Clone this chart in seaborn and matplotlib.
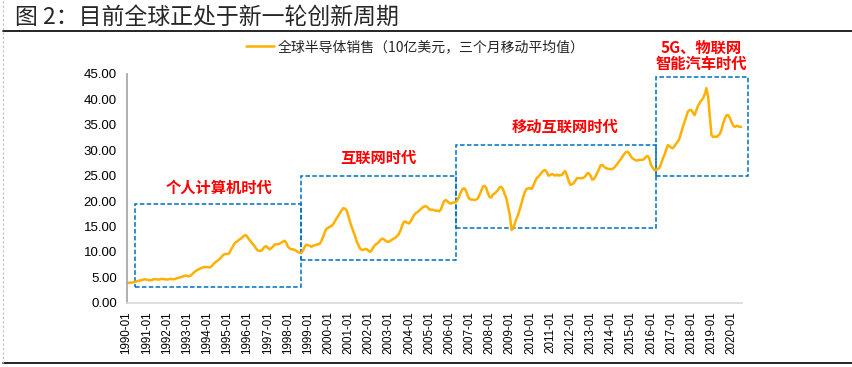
import pandas as pd
import matplotlib.pyplot as plt
import seaborn as sns
from matplotlib.lines import Line2D
from matplotlib.patches import Rectangle

# monthly 3MMA global semiconductor sales, bn USD
sales_by_year = {
    1990: [3.9, 3.9, 3.95, 3.95, 4.0, 4.1, 4.2, 4.3, 4.35, 4.45, 4.55, 4.6],
    1991: [4.55, 4.45, 4.4, 4.45, 4.6, 4.65, 4.6, 4.55, 4.6, 4.7, 4.65, 4.6],
    1992: [4.55, 4.6, 4.7, 4.65, 4.6, 4.7, 4.8, 4.9, 5.0, 5.1, 5.25, 5.35],
    1993: [5.25, 5.2, 5.3, 5.6, 5.9, 6.2, 6.4, 6.6, 6.75, 6.9, 7.0, 7.0],
    1994: [7.0, 6.95, 7.0, 7.3, 7.7, 8.0, 8.2, 8.5, 8.8, 9.2, 9.5, 9.6],
    1995: [9.6, 9.7, 10.3, 10.9, 11.5, 11.9, 12.1, 12.4, 12.6, 12.9, 13.2, 13.3],
    1996: [12.9, 12.4, 12.0, 11.6, 11.2, 10.7, 10.3, 10.2, 10.2, 10.5, 11.0, 11.1],
    1997: [10.8, 10.5, 10.7, 11.0, 11.4, 11.5, 11.5, 11.6, 11.8, 12.0, 12.2, 11.8],
    1998: [11.0, 10.7, 10.5, 10.5, 10.4, 10.2, 10.0, 9.8, 9.85, 10.3, 11.0, 11.4],
    1999: [11.3, 11.2, 11.0, 11.2, 11.3, 11.4, 11.5, 11.6, 12.2, 13.0, 13.9, 14.6],
    2000: [14.7, 15.0, 15.1, 15.5, 16.0, 16.6, 17.1, 17.7, 18.2, 18.6, 18.5, 18.1],
    2001: [17.0, 15.8, 14.9, 14.0, 13.1, 12.0, 11.3, 10.6, 10.4, 10.4, 10.6, 10.5],
    2002: [10.2, 10.0, 10.4, 11.0, 11.4, 11.6, 11.9, 12.3, 12.6, 12.5, 12.2, 12.0],
    2003: [12.0, 12.2, 12.4, 12.6, 12.8, 13.1, 13.5, 14.2, 15.2, 15.9, 16.0, 15.7],
    2004: [15.6, 16.0, 16.6, 17.2, 17.6, 17.8, 18.1, 18.4, 18.7, 18.9, 19.0, 18.8],
    2005: [18.4, 18.25, 18.3, 18.2, 18.1, 18.1, 18.0, 18.3, 19.3, 20.0, 20.2, 19.9],
    2006: [19.6, 19.5, 19.7, 19.7, 19.8, 20.2, 21.0, 21.8, 22.4, 22.5, 22.0, 21.0],
    2007: [20.4, 20.3, 20.3, 20.2, 20.3, 20.5, 21.2, 22.0, 22.8, 23.0, 22.6, 21.5],
    2008: [20.8, 20.7, 21.3, 21.5, 21.8, 22.2, 22.7, 22.8, 22.3, 21.3, 20.5, 18.8],
    2009: [17.3, 14.3, 14.6, 15.6, 16.5, 17.3, 18.4, 19.6, 20.8, 21.8, 22.4, 22.5],
    2010: [22.5, 22.4, 23.0, 23.8, 24.5, 24.8, 25.2, 25.6, 26.0, 26.1, 25.7, 25.0],
    2011: [25.1, 25.3, 25.2, 25.0, 25.2, 25.0, 25.1, 25.1, 25.6, 25.9, 25.1, 24.0],
    2012: [23.2, 23.3, 23.5, 24.0, 24.5, 24.5, 24.5, 24.5, 24.6, 24.9, 25.4, 25.5],
    2013: [25.0, 24.2, 24.3, 24.8, 25.5, 26.2, 27.0, 27.1, 26.8, 26.5, 26.4, 26.3],
    2014: [26.3, 26.3, 26.5, 26.9, 27.3, 27.8, 28.2, 28.7, 29.2, 29.6, 29.7, 29.4],
    2015: [28.8, 28.4, 28.2, 28.0, 28.0, 28.1, 28.1, 28.1, 28.3, 28.7, 28.9, 28.4],
    2016: [27.1, 26.6, 26.1, 26.1, 26.3, 26.5, 27.3, 28.3, 29.1, 30.0, 31.0, 30.8],
    2017: [30.5, 30.4, 30.8, 31.3, 31.7, 32.3, 33.5, 34.6, 35.6, 36.6, 37.6, 37.9],
    2018: [37.9, 37.4, 36.9, 37.8, 38.7, 39.3, 39.8, 40.2, 41.0, 42.2, 40.5, 36.8],
    2019: [33.0, 32.6, 32.7, 32.6, 32.9, 33.2, 34.0, 35.3, 36.3, 36.9, 36.9, 36.3],
    2020: [35.5, 34.8, 34.6, 34.8, 34.7, 34.6, 34.6],
}

series_name = "全球半导体销售（10亿美元，三个月移动平均值）"
title = "图 2：目前全球正处于新一轮创新周期"

# era boxes: label, start, end, low, high, label position
eras = ["个人计算机时代", "互联网时代", "移动互联网时代", "5G、物联网\n智能汽车时代"]
era_start = ["1990-06", "1998-09", "2006-05", "2016-04"]
era_end = ["1998-09", "2006-05", "2016-04", "2020-11"]
era_low = [3.0, 8.4, 14.6, 25.0]
era_high = [19.4, 25.0, 31.0, 44.4]
label_at = ["1994-08", "2002-07", "2011-10", "2018-07"]
label_y = [22.6, 28.5, 34.6, 48.6]

values = [v for yr in sales_by_year for v in sales_by_year[yr]]
dates = pd.date_range("1990-01-01", periods=len(values), freq="MS")
df = pd.DataFrame({"month": dates, "sales": values})

sns.set_theme(style="white")
plt.rcParams['font.family'] = ['Liberation Sans', 'Noto Sans CJK SC', 'DejaVu Sans']

fig = plt.figure(figsize=(8.53, 3.67), dpi=100)
ax = fig.add_axes([0.1484, 0.1752, 0.7211, 0.6232])

sns.lineplot(data=df, x="month", y="sales", ax=ax, color="#FFB000",
             linewidth=1.8, label=series_name)

for i in range(len(eras)):
    x0 = pd.Timestamp(era_start[i] + "-01")
    x1 = pd.Timestamp(era_end[i] + "-01")
    ax.add_patch(Rectangle((x0, era_low[i]), x1 - x0, era_high[i] - era_low[i],
                           fill=False, edgecolor="#0070C0", linestyle=(0, (3, 1.5)),
                           linewidth=1.1, clip_on=False))
    ax.text(pd.Timestamp(label_at[i] + "-01"), label_y[i], eras[i],
            color="#FF0000", fontsize=11, fontweight="bold", ha="center",
            va="center", linespacing=1.05, clip_on=False,
            family=['Noto Sans CJK SC', 'DejaVu Sans'])

ax.set_xlim(dates[0], dates[-1])
ax.set_ylim(0, 45)
ax.set_yticks(range(0, 46, 5))
ax.set_yticklabels([f"{v:.2f}" for v in range(0, 46, 5)], fontsize=9.5)
ax.set_xticks(pd.date_range("1990-01-01", "2020-01-01", freq="YS"))
ax.set_xticklabels([f"{y}-01" for y in range(1990, 2021)], rotation=90, fontsize=8.4)
ax.set_xlabel("")
ax.set_ylabel("")

sns.despine(ax=ax)
ax.spines["left"].set_color("#A6A6A6")
ax.spines["bottom"].set_color("#D9D9D9")
ax.tick_params(axis="both", which="both", length=4, width=0.8, color="#A6A6A6",
               colors="#000000", pad=3)
ax.tick_params(axis="x", color="#BFBFBF", pad=2)

leg = ax.legend(loc="center", bbox_to_anchor=(0.487, 0.872),
                bbox_transform=fig.transFigure, frameon=False,
                handlelength=2.0, handletextpad=0.3,
                prop={"family": ['Noto Sans CJK SC', 'DejaVu Sans'], "size": 10})

# title and frame lines
fig.text(0.018, 0.953, title, fontsize=16.5, ha="left", va="center",
         family=['Noto Sans CJK SC', 'DejaVu Sans'], fontweight="light")
fig.add_artist(Line2D([0.004, 1.0], [0.915, 0.915], color="black", linewidth=1.2))
fig.add_artist(Line2D([0.004, 1.0], [0.012, 0.012], color="black", linewidth=1.2))
fig.add_artist(Line2D([0.004, 0.004], [0.012, 1.0], color="#BFBFBF",
                      linewidth=0.8, linestyle=(0, (2, 2))))

fig.savefig("out.png", dpi=100)
